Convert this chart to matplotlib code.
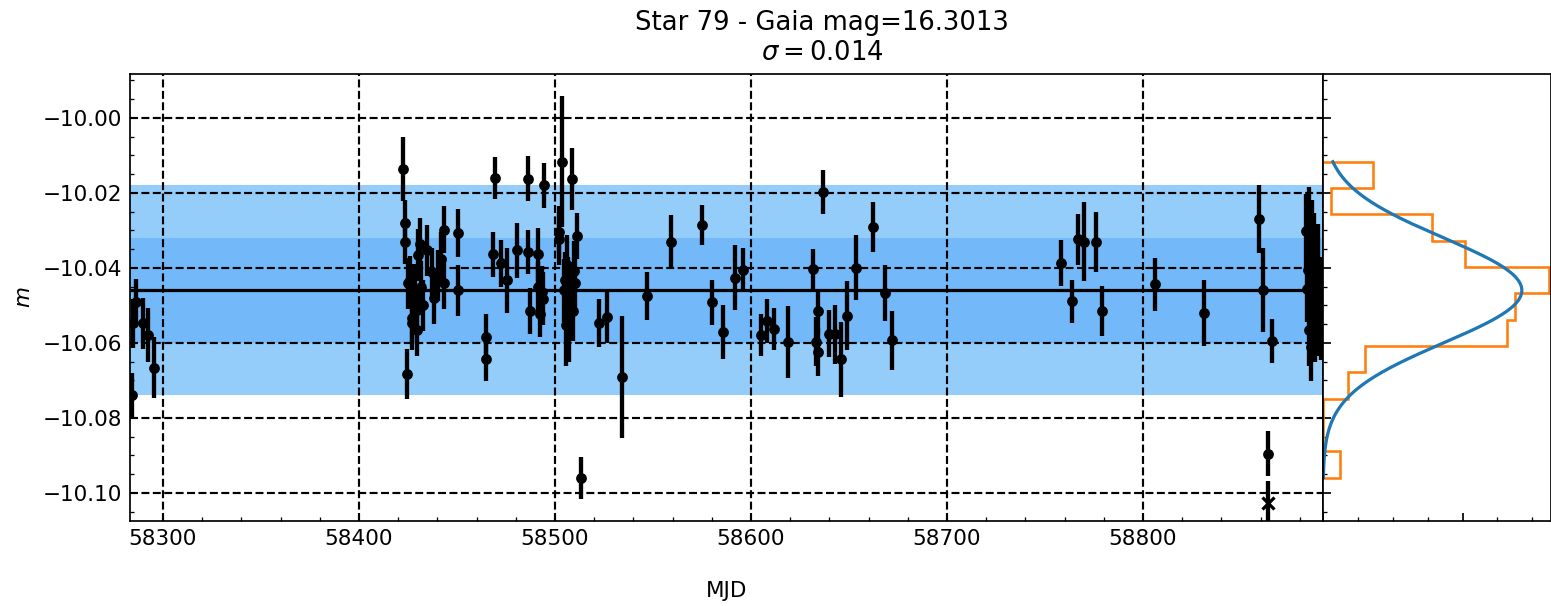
import numpy as np
import matplotlib
matplotlib.use("Agg")
import matplotlib.pyplot as plt
from matplotlib.ticker import MultipleLocator, AutoMinorLocator

# light curve points: epoch, magnitude, uncertainty
mjd = [58284.0, 58284.5, 58286.2, 58289.6, 58292.5, 58295.6,
       58422.6, 58423.5, 58423.5, 58424.3, 58426.0, 58426.9, 58427.7, 58428.6,
       58429.4, 58429.4, 58431.1, 58431.9, 58432.8, 58434.5, 58437.4, 58438.4,
       58441.8, 58443.5, 58443.5, 58450.4, 58450.4, 58425.2, 58428.0, 58427.0,
       58430.2, 58440.5,
       58464.8, 58464.8, 58468.5, 58469.6, 58472.4, 58475.7, 58480.6, 58486.4,
       58486.4, 58487.5, 58491.5, 58491.5, 58492.3, 58493.2, 58494.4, 58494.0,
       58502.2, 58502.2, 58503.6, 58505.3, 58505.4, 58506.3, 58506.8, 58508.7,
       58509.0, 58509.7, 58511.4, 58513.3, 58504.5, 58507.5, 58505.9, 58510.2,
       58507.0,
       58522.3, 58526.4, 58534.3, 58547.1, 58559.0, 58575.2, 58580.0, 58585.9,
       58591.8, 58596.1, 58604.9, 58608.0, 58611.9, 58619.0, 58631.8, 58633.2,
       58634.0, 58634.0, 58636.9, 58639.9, 58642.9, 58645.9, 58648.8, 58653.7,
       58662.0, 58668.6, 58672.0,
       58758.0, 58763.9, 58767.0, 58770.1, 58776.0, 58778.9, 58806.1, 58831.1,
       58859.2, 58861.1, 58863.8, 58865.7,
       58882.9, 58883.7, 58884.9, 58885.5, 58886.3, 58887.5, 58889.0, 58890.5,
       58884.2, 58888.2, 58890.0, 58884.6, 58887.0, 58891.0, 58886.0]
mag = [-10.0739, -10.0548, -10.0492, -10.0548, -10.0579, -10.0666,
       -10.0137, -10.0280, -10.0330, -10.0682, -10.0433, -10.0548, -10.0460, -10.0486,
       -10.0566, -10.0513, -10.0335, -10.0451, -10.0499, -10.0353, -10.0411, -10.0479,
       -10.0375, -10.0298, -10.0440, -10.0306, -10.0460, -10.0441, -10.0459, -10.0534,
       -10.0366, -10.0419,
       -10.0584, -10.0642, -10.0364, -10.0160, -10.0388, -10.0433, -10.0353, -10.0162,
       -10.0357, -10.0515, -10.0364, -10.0451, -10.0522, -10.0465, -10.0180, -10.0482,
       -10.0304, -10.0322, -10.0117, -10.0433, -10.0551, -10.0477, -10.0451, -10.0163,
       -10.0515, -10.0408, -10.0315, -10.0959, -10.0460, -10.0487, -10.0393, -10.0441,
       -10.0560,
       -10.0546, -10.0532, -10.0691, -10.0475, -10.0330, -10.0286, -10.0491, -10.0571,
       -10.0426, -10.0406, -10.0579, -10.0541, -10.0563, -10.0597, -10.0404, -10.0597,
       -10.0515, -10.0624, -10.0197, -10.0575, -10.0577, -10.0644, -10.0527, -10.0400,
       -10.0290, -10.0466, -10.0593,
       -10.0386, -10.0489, -10.0324, -10.0330, -10.0330, -10.0515, -10.0444, -10.0520,
       -10.0269, -10.0459, -10.0896, -10.0595,
       -10.0302, -10.0455, -10.0293, -10.0611, -10.0485, -10.0540, -10.0384, -10.0470,
       -10.0406, -10.0462, -10.0534, -10.0566, -10.0353, -10.0555, -10.0320]
err = [0.0060, 0.0065, 0.0062, 0.0067, 0.0071, 0.0081,
       0.0085, 0.0062, 0.0060, 0.0067, 0.0065, 0.0070, 0.0068, 0.0072,
       0.0070, 0.0066, 0.0069, 0.0070, 0.0068, 0.0068, 0.0065, 0.0070,
       0.0070, 0.0062, 0.0070, 0.0064, 0.0067, 0.0068, 0.0070, 0.0070,
       0.0070, 0.0068,
       0.0060, 0.0060, 0.0059, 0.0056, 0.0062, 0.0086, 0.0073, 0.0060,
       0.0059, 0.0062, 0.0071, 0.0068, 0.0062, 0.0070, 0.0059, 0.0070,
       0.0070, 0.0070, 0.0175, 0.0075, 0.0110, 0.0080, 0.0080, 0.0082,
       0.0080, 0.0080, 0.0062, 0.0056, 0.0085, 0.0085, 0.0080, 0.0075,
       0.0090,
       0.0064, 0.0069, 0.0162, 0.0063, 0.0072, 0.0053, 0.0060, 0.0072,
       0.0087, 0.0058, 0.0056, 0.0059, 0.0057, 0.0096, 0.0055, 0.0065,
       0.0060, 0.0065, 0.0058, 0.0062, 0.0078, 0.0099, 0.0093, 0.0087,
       0.0067, 0.0075, 0.0079,
       0.0061, 0.0057, 0.0069, 0.0105, 0.0080, 0.0067, 0.0070, 0.0088,
       0.0091, 0.0112, 0.0060, 0.0058,
       0.0100, 0.0090, 0.0110, 0.0090, 0.0120, 0.0110, 0.0100, 0.0100,
       0.0095, 0.0100, 0.0100, 0.0095, 0.0100, 0.0090, 0.0100]

# rejected point
bad_mjd = [58863.8]
bad_mag = [-10.1028]
bad_err = [0.0060]

mean_mag = -10.046
sigma = 0.014
star_id = 79
gaia_mag = 16.3013

mjd = np.array(mjd)
mag = np.array(mag)
err = np.array(err)

fig = plt.figure(figsize=(1551 / 155, 606 / 155), dpi=155)
ax = fig.add_axes([130 / 1551, 85 / 606, 1193 / 1551, 447 / 606])
axh = fig.add_axes([1323 / 1551, 85 / 606, 227.5 / 1551, 447 / 606], sharey=ax)

# 2 sigma and 1 sigma bands around the mean
ax.axhspan(mean_mag - 2 * sigma, mean_mag + 2 * sigma, color='#94cdfa', lw=0, zorder=0)
ax.axhspan(mean_mag - sigma, mean_mag + sigma, color='#73b8f8', lw=0, zorder=0)
ax.axhline(mean_mag, color='k', lw=1.5, zorder=1.8)

ax.errorbar(mjd, mag, yerr=err, fmt='o', color='k', ms=4, elinewidth=2, capsize=0)
ax.errorbar(bad_mjd, bad_mag, yerr=bad_err, fmt='x', color='k', ms=6, mew=1.5,
            elinewidth=2, capsize=0)

ax.grid(True, ls='--', color='k', lw=1)
ax.set_xlim(58283.2, 58891.8)
ax.set_ylim(-10.1075, -9.9883)
ax.xaxis.set_major_locator(MultipleLocator(100))
ax.xaxis.set_minor_locator(AutoMinorLocator(5))
ax.yaxis.set_major_locator(MultipleLocator(0.02))
ax.yaxis.set_minor_locator(AutoMinorLocator(4))
ax.tick_params(which='both', direction='in')
ax.set_xlabel('MJD', labelpad=15)
ax.set_ylabel('$m$')

# histogram of magnitudes with gaussian of the same mean / sigma
axh.hist(mag, bins=12, orientation='horizontal', histtype='step', density=True,
         color='tab:orange', lw=1.2)
yy = np.linspace(mag.min(), mag.max(), 300)
pdf = np.exp(-0.5 * ((yy - mean_mag) / sigma) ** 2) / (sigma * np.sqrt(2 * np.pi))
axh.plot(pdf, yy, color='tab:blue', lw=1.5)
axh.set_xlim(0, 32.6)
axh.xaxis.set_major_locator(MultipleLocator(20))
axh.xaxis.set_minor_locator(AutoMinorLocator(4))
axh.tick_params(which='both', direction='in', labelleft=False, labelbottom=False)

fig.suptitle(f'Star {star_id} - Gaia mag={gaia_mag}\n$\\sigma = {sigma}$',
             x=822 / 1551, y=1 - 10 / 606, va='top', fontsize=12)

fig.savefig('out.png', dpi=155)
